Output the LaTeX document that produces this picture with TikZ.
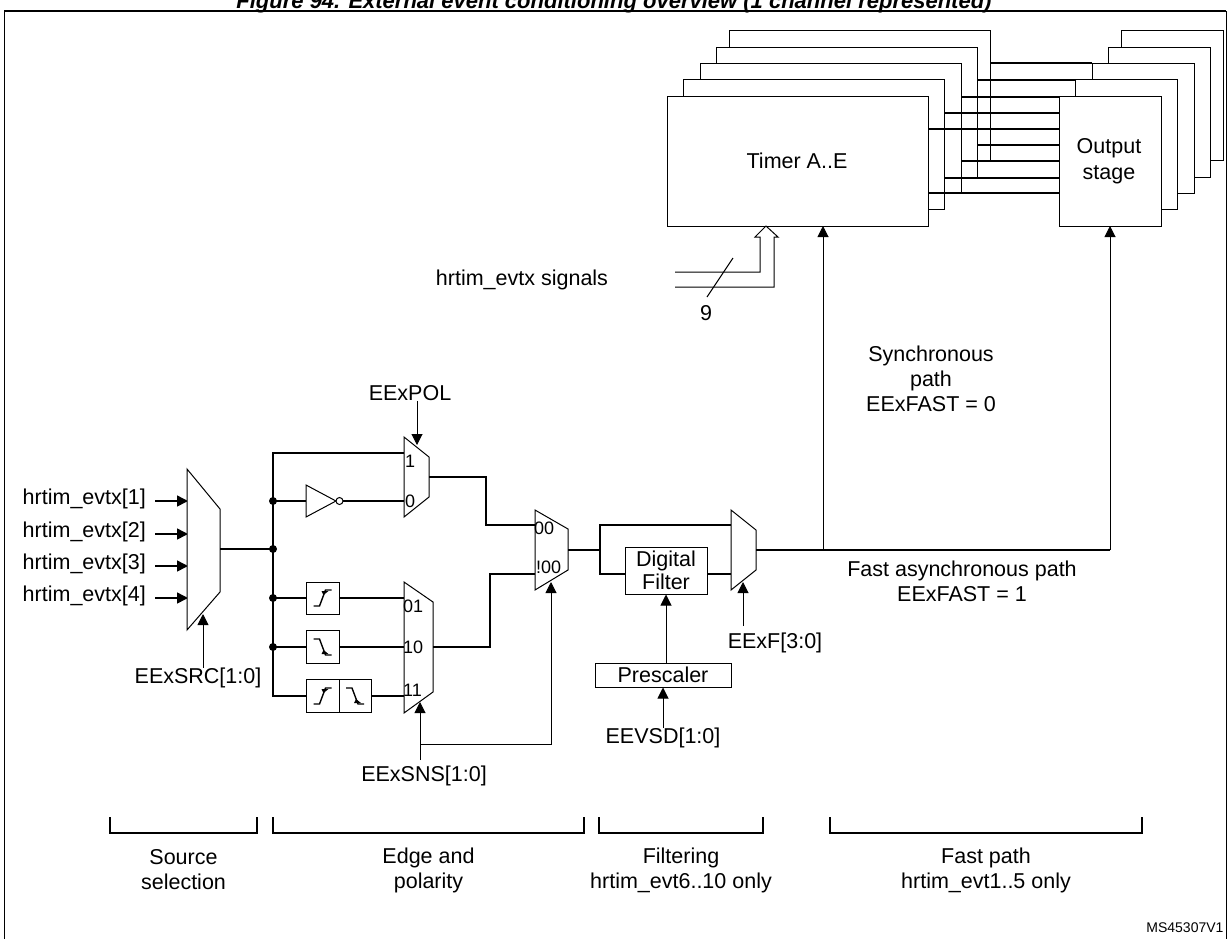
\documentclass[tikz,border=0pt]{standalone}
\usepackage{fontspec}
\setmainfont{Liberation Sans}
\usetikzlibrary{arrows.meta,calc}

\tikzset{
  blk/.style={draw, fill=white, line width=1pt},
  wire/.style={line width=1.5pt},
  sig/.style={wire, -{Triangle[length=11pt,width=11pt]}},
  ctl/.style={line width=1pt, -{Triangle[length=11pt,width=11pt]}},
  dot/.style={circle, fill, inner sep=0pt, minimum size=8pt},
  lbl/.style={font=\fontsize{21.5}{25}\selectfont, align=center, inner sep=0pt},
  port/.style={font=\fontsize{18}{20}\selectfont, inner sep=1pt, anchor=west},
  brk/.style={line width=1.2pt}
}
\newcommand{\risesym}[1]{%
  \draw[line width=1.4pt] ($(#1)+(-9,8)$) -- ++(6,0) -- ++(6,-16) -- ++(6,0);
  \fill ($(#1)+(1,-3)$) -- ++(5,-4) -- ++(-7,0) -- cycle;}
\newcommand{\fallsym}[1]{%
  \draw[line width=1.4pt] ($(#1)+(-9,-8)$) -- ++(6,0) -- ++(6,16) -- ++(6,0);
  \fill ($(#1)+(1,3)$) -- ++(5,4) -- ++(-7,0) -- cycle;}

\begin{document}
\begin{tikzpicture}[x=1pt,y=-1pt]
\useasboundingbox (0,0) rectangle (1229,938);
% title and frame
\node[font=\fontsize{22}{26}\selectfont\bfseries\itshape, anchor=base] (title) at (614,8) {Figure 94. External event conditioning overview (1 channel represented)};
\draw[line width=1pt] (4,945) -- (4,11) -- (1226,11) -- (1226,945);
\draw[line width=2pt] (4,11) -- (1226,11);

% timer and output stage stacks
\foreach \k/\dx in {4/62,3/49,2/33,1/16,0/0} {
  \draw[blk] ({667+\dx},{96-16.3*\k}) rectangle ++(261,130);
  \draw[blk] ({1059+\dx},{96-16.3*\k}) rectangle ++(102,130);
}
\node[lbl] (timer) at (797,161) {Timer A..E};
\node[lbl] (outst) at (1109,161) {Output\\[1pt]stage};
\foreach \y/\xa/\xb in {63/991/1092, 80/977/1076, 97/961/1059, 113/944/1059, 129/928/1059,
                         145/977/1059, 161/961/1059, 178/944/1059, 193/928/1059}
  \draw[wire] (\xa,\y) -- (\xb,\y);

% hrtim_evtx bus
\node[lbl] (evsig) at (522,280) {hrtim\_evtx signals};
\coordinate (bushead) at (766,226);
\draw[line width=1pt] (675,272) -- (760,272) -- (760,237) -- (755,237) -- (bushead) -- (778,237) -- (774,237) -- (774,287) -- (675,287);
\draw[line width=1pt] (733,258) -- (707,297);
\node[lbl] (nine) at (706,313) {9};

% source selection
\foreach \y/\n in {501/1,534/2,566/3,598/4} {
  \node[lbl, anchor=east] (in\n) at (146,\y-2) {hrtim\_evtx[\n]};
  \draw[sig] ([xshift=9pt]in\n.east |- 0,\y) -- (188,\y);
}
\draw[blk] (187,469) -- (220,509) -- (220,592) -- (187,630) -- cycle;
\node[lbl] (srcsel) at (198,678) {EExSRC[1:0]};
\draw[ctl] (srcsel.north -| 203,0) -- (203,614);
\draw[wire] (220,549) -- (273,549);
\draw[wire] (404,453) -- (273,453) -- (273,696) -- (306,696);
\foreach \y in {501,549,598,647} \node[dot] at (273,\y) {};

% polarity
\draw[blk] (306,485) -- (336,501) -- (306,517) -- cycle;
\draw[line width=1pt, fill=white] (339.5,501) circle (3.5);
\draw[wire] (273,501) -- (306,501);
\draw[wire] (343,501) -- (404,501);
\draw[blk] (404,437) -- (429,457) -- (429,497) -- (404,517) -- cycle;
\node[port] at (404,461) {1};
\node[port] at (404,501) {0};
\node[lbl] (pol) at (410,393) {EExPOL};
\draw[ctl] (pol.south -| 417,0) -- (417,445);
\draw[wire] (429,477) -- (486,477) -- (486,525) -- (535,525);

% edge detectors
\draw[blk] (306,582) rectangle (339,614);
\draw[blk] (306,630) rectangle (339,663);
\draw[blk] (306,679) rectangle (339,712);
\draw[blk] (339,679) rectangle (371,712);
\risesym{322.5,598}
\fallsym{322.5,647}
\risesym{322.5,696}
\fallsym{355,696}
\draw[wire] (273,598) -- (306,598);
\draw[wire] (273,647) -- (306,647);
\draw[wire] (339,598) -- (404,598);
\draw[wire] (339,647) -- (404,647);
\draw[wire] (371,696) -- (404,696);
\draw[blk] (404,582) -- (433,602) -- (433,692) -- (404,713) -- cycle;
\node[port] at (402,606) {01};
\node[port] at (402,647) {10};
\node[port] at (402,690) {11};
\draw[wire] (433,647) -- (490,647) -- (490,574) -- (535,574);
\node[lbl] (sns) at (424,776) {EExSNS[1:0]};
\draw[ctl] (420,760) -- (420,702);
\draw[ctl] (420,744) -- (551,744) -- (551,582);

% mode mux
\draw[blk] (535,510) -- (568,529) -- (568,570) -- (535,590) -- cycle;
\node[port] at (533,528) {00};
\node[port, inner sep=0pt] at (536,567) {!00};
\draw[wire] (568,550) -- (600,550);
\draw[wire] (731,525) -- (600,525) -- (600,574) -- (625,574);

% filtering
\node[blk, minimum width=82pt, minimum height=47pt, lbl, inner sep=0pt] (filt) at (666,570.5) {Digital\\[-2pt]Filter};
\draw[wire] (filt.east) ++(0,3.5) -- (731,574);
\node[blk, minimum width=136pt, minimum height=24pt, lbl] (presc) at (663,675) {Prescaler};
\draw[ctl] (presc.north -| filt.south) -- (filt.south);
\node[lbl] (evsd) at (663,738) {EEVSD[1:0]};
\draw[ctl] (evsd.north) -- (presc.south);
\draw[blk] (731,510) -- (756,530) -- (756,570) -- (731,590) -- cycle;
\node[lbl] (eexf) at (775,643) {EExF[3:0]};
\draw[ctl] (743,626) -- (743,582);

% fast path
\draw[wire] (756,550) -- (1110,550);
\draw[ctl] (823,550) -- (823,226);
\draw[ctl] (1110,550) -- (1110,226);
\node[lbl] (sync) at (931,379) {Synchronous\\path\\EExFAST = 0};
\node[lbl] (fast) at (962,581) {Fast asynchronous path\\EExFAST = 1};

% brackets
\foreach \a/\b/\n in {110/257/s, 273/584/e, 599/763/f, 830/1142/p} {
  \draw[brk] (\a,817) -- (\a,833) -- (\b,833) -- (\b,817);
  \coordinate (br\n) at ({(\a+\b)/2},870);
}
\node[lbl] at (brs) {Source\\selection};
\node[lbl] at (bre) {Edge and\\polarity};
\node[lbl] at (brf) {Filtering\\hrtim\_evt6..10 only};
\node[lbl] at (brp) {Fast path\\hrtim\_evt1..5 only};
\node[font=\fontsize{14}{16}\selectfont, anchor=east] (ms) at (1227,928) {MS45307V1};
\end{tikzpicture}
\end{document}
